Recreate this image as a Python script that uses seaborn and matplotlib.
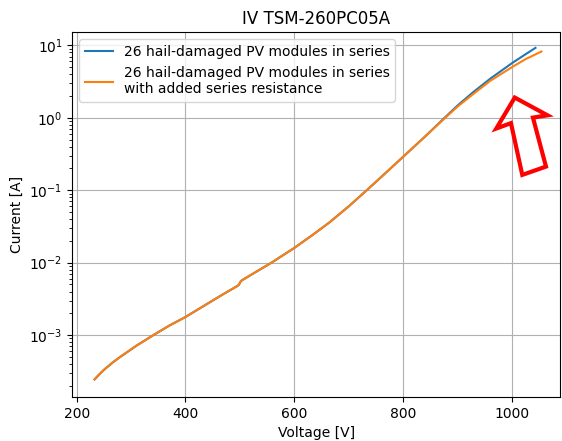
import numpy as np
import pandas as pd
import matplotlib
matplotlib.use("Agg")
import matplotlib.pyplot as plt
import seaborn as sns
from matplotlib.patches import Polygon

# --- data ---
volt_a = [233, 240, 250, 265, 280, 310, 341, 370, 400, 445, 470, 495, 498, 502,
          506, 530, 558, 600, 633, 665, 700, 733, 765, 800, 840, 876, 900, 928,
          960, 1000, 1025, 1043]
curr_a = [2.45e-4, 2.79e-4, 3.31e-4, 4.12e-4, 5.0e-4, 7.16e-4, 1.0e-3, 1.35e-3,
          1.78e-3, 2.85e-3, 3.7e-3, 4.75e-3, 4.95e-3, 5.6e-3, 5.85e-3, 7.5e-3,
          1.0e-2, 1.6e-2, 2.4e-2, 3.62e-2, 6.0e-2, 0.10, 0.166, 0.29, 0.55,
          1.0, 1.48, 2.24, 3.47, 5.69, 7.55, 9.23]
volt_b = [233, 240, 250, 265, 280, 310, 341, 370, 400, 445, 470, 495, 498, 502,
          506, 530, 558, 600, 633, 665, 700, 733, 765, 800, 840, 876, 900, 928,
          960, 1000, 1025, 1054]
curr_b = [2.45e-4, 2.79e-4, 3.31e-4, 4.12e-4, 5.0e-4, 7.16e-4, 1.0e-3, 1.35e-3,
          1.78e-3, 2.85e-3, 3.7e-3, 4.75e-3, 4.95e-3, 5.6e-3, 5.85e-3, 7.5e-3,
          1.0e-2, 1.6e-2, 2.4e-2, 3.62e-2, 6.0e-2, 0.10, 0.166, 0.29, 0.55,
          0.98, 1.43, 2.11, 3.24, 5.01, 6.46, 8.22]
label_a = "26 hail-damaged PV modules in series"
label_b = "26 hail-damaged PV modules in series\nwith added series resistance"
title = "IV TSM-260PC05A"
xlabel = "Voltage [V]"
ylabel = "Current [A]"

# annotation arrow outline (axes fraction)
arrow_x = [0.9073, 0.9744, 0.9446, 0.9713, 0.9227, 0.8995, 0.8694]
arrow_y = [0.8212, 0.7725, 0.7662, 0.6319, 0.6091, 0.7511, 0.7363]

fig = plt.figure(figsize=(5.62, 4.41), dpi=100)
ax = fig.add_axes([0.1286, 0.0998, 0.8678, 0.8268])

df_a = pd.DataFrame({"V": volt_a, "I": curr_a})
df_b = pd.DataFrame({"V": volt_b, "I": curr_b})
sns.lineplot(data=df_a, x="V", y="I", ax=ax, color="#1f77b4", label=label_a,
             estimator=None, sort=False, linewidth=1.5)
sns.lineplot(data=df_b, x="V", y="I", ax=ax, color="#ff7f0e", label=label_b,
             estimator=None, sort=False, linewidth=1.5)

ax.set_yscale("log")
ax.set_xlim(192, 1088)
ax.set_ylim(1.40e-4, 15.1)
ax.set_xticks([200, 400, 600, 800, 1000])
ax.grid(True, which="major", color="#b0b0b0", linewidth=0.8)
ax.set_title(title, fontsize=12)
ax.set_xlabel(xlabel, fontsize=10)
ax.set_ylabel(ylabel, fontsize=10)
ax.legend(loc="upper left", fontsize=10)

poly = Polygon(list(zip(arrow_x, arrow_y)), closed=True, fill=False,
               edgecolor="red", linewidth=3, transform=ax.transAxes,
               joinstyle="miter", zorder=5)
ax.add_patch(poly)

fig.savefig("out.png", dpi=100)
